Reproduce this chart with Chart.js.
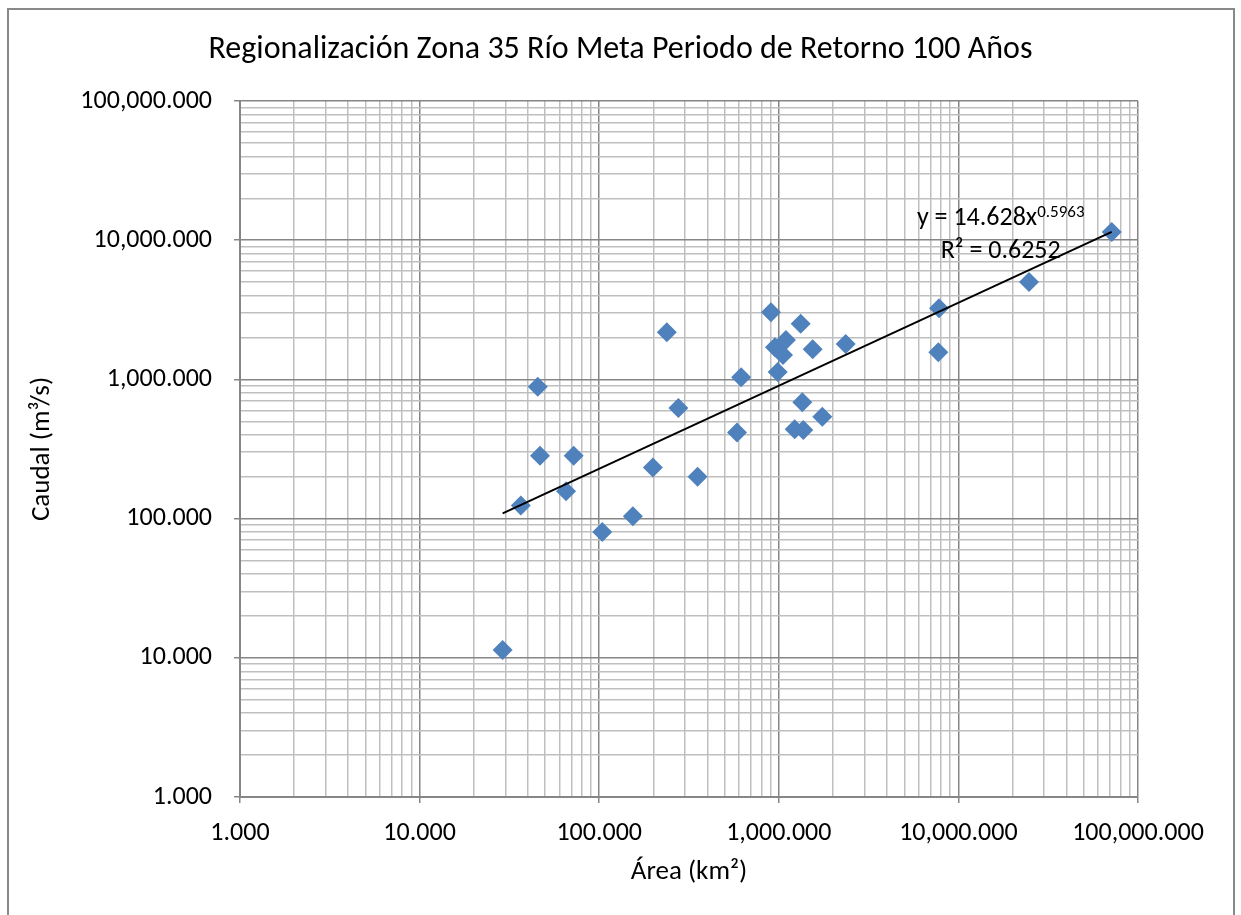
<!DOCTYPE html>
<html>
<head>
<meta charset="utf-8">
<script src="https://cdn.jsdelivr.net/npm/chart.js@4.4.1/dist/chart.umd.min.js"></script>
<style>
  html, body { margin: 0; padding: 0; background: #fff; overflow: hidden; }
  #wrap { position: relative; width: 1241px; height: 915px; }
  #frame { position: absolute; left: 7px; top: 8px; width: 1228px; height: 1000px; border: 2px solid #898989; box-sizing: border-box; pointer-events: none; }
</style>
</head>
<body>
<div id="wrap"><canvas id="myChart"></canvas><div id="frame"></div></div>
<script>
const FONT = "Carlito, Lato, 'Open Sans', sans-serif";
const TITLE = "Regionalización Zona 35 Río Meta Periodo de Retorno 100 Años";

// Area (km2) and Caudal (m3/s) per station
const area = [29.0, 36.6, 45.5, 46.8, 65.4, 72.1, 104, 154, 199, 238, 276, 353, 585, 617, 905,
  952, 986, 1055, 1096, 1324, 1226, 1369, 1352, 1544, 1747, 2358, 7800, 7730, 24720, 71400];
const caudal = [11.4, 124, 887, 283, 157, 283, 80.1, 104, 233, 2179, 623, 200, 415, 1035, 3034,
  1701, 1130, 1497, 1919, 2513, 438, 433, 685, 1645, 540, 1796, 3243, 1566, 5010, 11460];

const majorTicks = [1, 10, 100, 1000, 10000, 100000];
const minorSteps = [1, 2, 3, 4, 5, 6, 7, 8, 9];

// potential trendline from the chart label
const trendA = 14.628;
const trendB = 0.5963;
const trendR2 = "0.6252";

let points = area.map((a, i) => ({ x: a, y: caudal[i] }));
let xMin = Math.min(...area);
let xMax = Math.max(...area);
let trendPoints = [
  { x: xMin, y: trendA * Math.pow(xMin, trendB) },
  { x: xMax, y: trendA * Math.pow(xMax, trendB) },
];

function logTicks(scale) {
  let t = [];
  for (let d = 0; d < majorTicks.length - 1; d++) {
    minorSteps.forEach((s) => t.push({ value: s * majorTicks[d] }));
  }
  t.push({ value: majorTicks[majorTicks.length - 1] });
  scale.ticks = t;
}

function isMajor(v) {
  return majorTicks.includes(v);
}

function fmt(v) {
  return v.toLocaleString("en-US", { minimumFractionDigits: 3, maximumFractionDigits: 3 });
}

function gridOpts() {
  return {
    color: (c) => (c.tick && isMajor(c.tick.value) ? "#868686" : "#bfbfbf"),
    tickColor: (c) => (c.tick && isMajor(c.tick.value) ? "#868686" : "rgba(0,0,0,0)"),
    lineWidth: 1.5,
    tickLength: 6,
  };
}

// title centred on the whole canvas + trendline equation
const extraText = {
  id: "extraText",
  afterDraw(chart) {
    let ctx = chart.ctx;
    ctx.save();
    ctx.fillStyle = "#000";
    ctx.textAlign = "center";
    ctx.textBaseline = "middle";
    ctx.font = "32px " + FONT;
    ctx.fillText(TITLE, chart.width / 2, 50);

    let px = chart.scales.x.getPixelForValue(xMax);
    let py = chart.scales.y.getPixelForValue(trendA * Math.pow(xMax, trendB));
    ctx.textBaseline = "alphabetic";
    let main = "y = " + trendA + "x";
    let sup = String(trendB);
    ctx.font = "26px " + FONT;
    let w1 = ctx.measureText(main).width;
    ctx.font = "17px " + FONT;
    let w2 = ctx.measureText(sup).width;
    let cx = px - 111;
    let left = cx - (w1 + w2) / 2;
    ctx.textAlign = "left";
    ctx.font = "26px " + FONT;
    ctx.fillText(main, left, py - 7);
    ctx.font = "17px " + FONT;
    ctx.fillText(sup, left + w1, py - 15);
    ctx.font = "26px " + FONT;
    ctx.textAlign = "center";
    ctx.fillText("R\u00b2 = " + trendR2, cx, py + 26);
    ctx.restore();
  },
};

let myChart = new Chart(document.getElementById("myChart").getContext("2d"), {
  type: "scatter",
  data: {
    datasets: [
      {
        label: "Caudal",
        data: points,
        pointStyle: "rectRot",
        pointRadius: 10,
        pointHoverRadius: 10,
        backgroundColor: "#4f81bd",
        borderColor: "#4f81bd",
        borderWidth: 0,
      },
      {
        label: "Tendencia",
        data: trendPoints,
        showLine: true,
        pointRadius: 0,
        borderColor: "#000000",
        borderWidth: 2,
        order: -1,
      },
    ],
  },
  options: {
    responsive: true,
    maintainAspectRatio: false,
    animation: false,
    layout: { padding: { left: 0, right: 103, top: 101, bottom: 0 } },
    plugins: {
      legend: { display: false },
      tooltip: { enabled: false },
      title: { display: false },
    },
    scales: {
      x: {
        type: "logarithmic",
        min: 1,
        max: 100000,
        afterBuildTicks: logTicks,
        afterFit: (s) => { s.height = 118; },
        grid: gridOpts(),
        border: { color: "#868686", width: 2 },
        ticks: {
          autoSkip: false,
          maxRotation: 0,
          padding: 15,
          color: "#000",
          font: { family: FONT, size: 26 },
          callback: (v) => (isMajor(v) ? fmt(v) : ""),
        },
        title: {
          display: true,
          text: "Área (km²)",
          color: "#000",
          font: { family: FONT, size: 27 },
          padding: { top: 0, bottom: 27 },
        },
      },
      y: {
        type: "logarithmic",
        min: 1,
        max: 100000,
        afterBuildTicks: logTicks,
        afterFit: (s) => { s.width = 240; },
        grid: gridOpts(),
        border: { color: "#868686", width: 2 },
        ticks: {
          autoSkip: false,
          padding: 22,
          color: "#000",
          font: { family: FONT, size: 26 },
          callback: (v) => (isMajor(v) ? fmt(v) : ""),
        },
        title: {
          display: true,
          text: "Caudal (m³/s)",
          color: "#000",
          font: { family: FONT, size: 27 },
          padding: { top: 26, bottom: 0 },
        },
      },
    },
  },
  plugins: [extraText],
});
</script>
</body>
</html>
